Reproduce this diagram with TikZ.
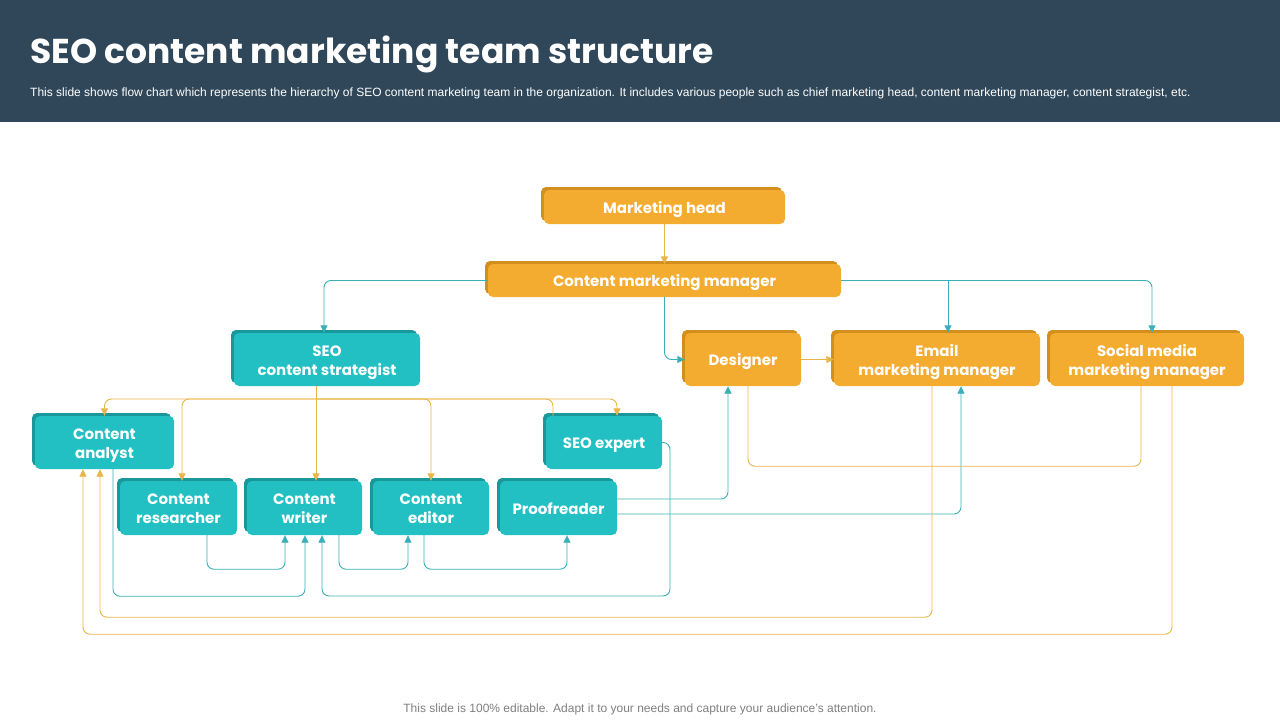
\documentclass[tikz,border=0pt]{standalone}
\usepackage{fontspec}
\setmainfont{Liberation Sans}
\newfontfamily\gothic{Poppins}
\usetikzlibrary{arrows.meta,calc,shadows}
\definecolor{hdr}{HTML}{2F4759}
\definecolor{org}{HTML}{F4AC30}
\definecolor{orgd}{HTML}{D28F1E}
\definecolor{tea}{HTML}{22BFC3}
\definecolor{tead}{HTML}{19979B}
\definecolor{tln}{HTML}{3AAFB6}
\definecolor{oln}{HTML}{EAB548}
\definecolor{foot}{HTML}{7F7F7F}
\begin{document}
\begin{tikzpicture}[x=1pt,y=-1pt,
  box/.style={rounded corners=5pt, inner sep=0pt, align=center, text=white,
    font=\gothic\bfseries\fontsize{15}{19}\selectfont, text height=12pt, text depth=0pt},
  two/.style={text height=31pt, text depth=0pt},
  obox/.style={box, fill=org, drop shadow={shadow xshift=-3pt, shadow yshift=3pt, fill=orgd, opacity=1}},
  tbox/.style={box, fill=tea, drop shadow={shadow xshift=-3pt, shadow yshift=3pt, fill=tead, opacity=1}},
  wh/.style 2 args={minimum width=#1pt, minimum height=#2pt},
  conn/.style={line width=0.9pt, rounded corners=7pt},
  tline/.style={conn, draw=tln},
  oline/.style={conn, draw=oln},
  arr/.style={-{Triangle[length=7.5pt,width=7pt]}}
]
\useasboundingbox (0,0) rectangle (1280,720);
\fill[hdr] (0,0) rectangle (1280,122);
\node[anchor=base west, text=white, inner sep=0pt, font=\gothic\bfseries\fontsize{34.5}{38}\selectfont] (title) at (30,63) {SEO content marketing team structure};
\node[anchor=base west, text=white, inner sep=0pt, font=\fontsize{12}{14}\selectfont] (sub) at (30,96) {This slide shows flow chart which represents the hierarchy of SEO content marketing team in the organization. It includes various people such as chief marketing head, content marketing manager, content strategist, etc.};
\node[anchor=base, text=foot, inner sep=0pt, font=\fontsize{12}{14}\selectfont] (foot) at (640,712) {This slide is 100\% editable. Adapt it to your needs and capture your audience's attention.};

% nodes
\node[obox, wh={241}{34}] (mh) at (664.5,207) {Marketing head};
\node[obox, wh={353}{33}] (cmm) at (664.5,280.5) {Content marketing manager};
\node[tbox, two, wh={186}{53}] (scs) at (327,359.5) {SEO\\content strategist};
\node[obox, wh={116}{53}] (des) at (743,359.5) {Designer};
\node[obox, two, wh={206}{53}] (emm) at (937,359.5) {Email\\marketing manager};
\node[obox, two, wh={194}{53}] (smm) at (1147,359.5) {Social media\\marketing manager};
\node[tbox, two, wh={139}{53}] (ca) at (104.5,442.5) {Content\\analyst};
\node[tbox, wh={116}{53}] (seo) at (604,442.5) {SEO expert};
\node[tbox, two, wh={117}{54}] (cr) at (178.5,508) {Content\\researcher};
\node[tbox, two, wh={115}{54}] (cw) at (304.5,508) {Content\\writer};
\node[tbox, two, wh={116}{54}] (ce) at (431,508) {Content\\editor};
\node[tbox, wh={117}{54}] (pr) at (558.5,508) {Proofreader};

% top connectors
\draw[oline, arr] (mh) -- (cmm);
\draw[tline, arr] (cmm.west) -| ([xshift=-3pt]scs.north);
\draw[tline, arr] (cmm.south) |- (des.west);
\draw[tline, arr] (cmm.east) -| ([xshift=5pt]smm.north);
\coordinate (eTop) at ([xshift=11pt]emm.north);
\draw[tline, arr] (cmm.east -| eTop) -- (eTop);
\draw[oline, arr] (des.east) -- (emm.west);

% strategist bus
\coordinate (bx) at (316,399);
\draw[oline, arr] (scs.south -| bx) -- (cw.north -| bx);
\draw[oline, arr] (bx) -| (ca.north);
\draw[oline, arr] (bx) -| ([xshift=13pt]seo.north);
\draw[oline, arr] (bx) -| ([xshift=3.5pt]cr.north);
\draw[oline, arr] (bx) -| (ce.north);
\draw[oline] (bx) -| ([xshift=-51pt]seo.north);

% bottom teal loops
\draw[tline, arr] ([xshift=28.5pt]cr.south) -- ++(0,34) -| ([xshift=-19.5pt]cw.south);
\draw[tline, arr] ([xshift=34.5pt]cw.south) -- ++(0,34) -| ([xshift=-23pt]ce.south);
\draw[tline, arr] ([xshift=-7pt]ce.south) -- ++(0,34) -| ([xshift=8.5pt]pr.south);
\draw[tline, arr] ([xshift=8.5pt]ca.south) -- ++(0,127) -| ([xshift=0.5pt]cw.south);
\draw[tline, arr] (seo.east) -| (670,596) -| ([xshift=17.5pt]cw.south);
\draw[tline, arr] ([yshift=9pt]pr.east) -| ([xshift=-15pt]des.south);
\draw[tline, arr] ([yshift=-6pt]pr.east) -| ([xshift=24pt]emm.south);

% bottom orange loops
\draw[oline] ([xshift=5pt]des.south) -- ++(0,80) -| ([xshift=-6pt]smm.south);
\draw[oline, arr] ([xshift=-5pt]emm.south) -- ++(0,231) -| ([xshift=-4.5pt]ca.south);
\draw[oline, arr] ([xshift=25pt]smm.south) -- ++(0,248) -| ([xshift=-21.5pt]ca.south);
\end{tikzpicture}
\end{document}
